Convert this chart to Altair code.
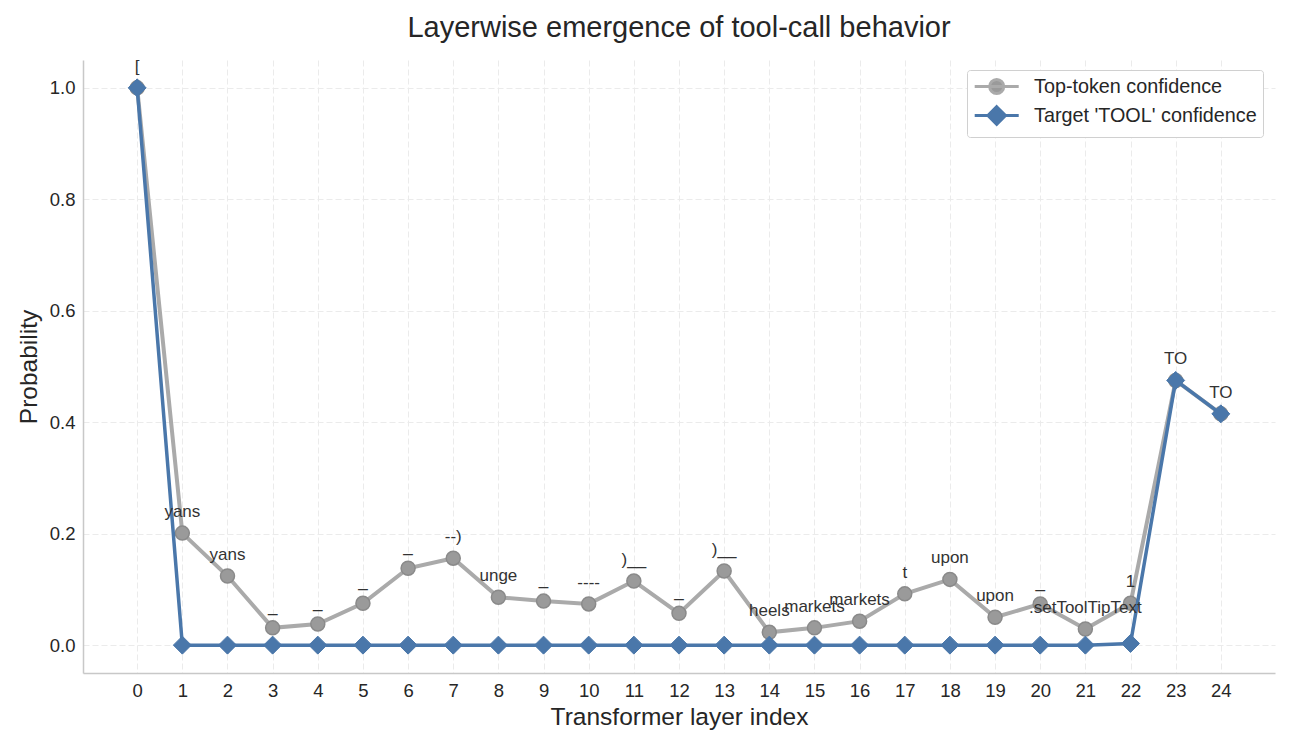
import altair as alt
import pandas as pd

layers = list(range(25))
top_conf = [1.0, 0.201, 0.124, 0.031, 0.038, 0.075, 0.138, 0.156, 0.086, 0.079,
            0.074, 0.115, 0.057, 0.133, 0.023, 0.031, 0.043, 0.092, 0.118, 0.050,
            0.074, 0.029, 0.075, 0.475, 0.415]
target_conf = [1.0, 0.0, 0.0, 0.0, 0.0, 0.0, 0.0, 0.0, 0.0, 0.0,
               0.0, 0.0, 0.0, 0.0, 0.0, 0.0, 0.0, 0.0, 0.0, 0.0,
               0.0, 0.0, 0.003, 0.475, 0.415]
top_tokens = ["[", "yans", "yans", "_", "_", "_", "_", "--)", "unge", "_",
              "----", ")__", "_", ")__", "heels", "markets", "markets", "t", "upon", "upon",
              "_", ".setToolTipText", "1", "TO", "TO"]

S_TOP = "Top-token confidence"
S_TGT = "Target 'TOOL' confidence"
series_names = [S_TOP, S_TGT]

GRAY_LINE = "#aaaaaa"
GRAY_FILL = "#9a9a9a"
GRAY_EDGE = "#8a8a8a"
BLUE = "#4a77aa"
FONT = "Liberation Sans"
TXT = "#262626"

top_df = pd.DataFrame({"layer": layers, "prob": top_conf, "series": S_TOP, "token": top_tokens})
tgt_df = pd.DataFrame({"layer": layers, "prob": target_conf, "series": S_TGT})
both_df = pd.concat([top_df, tgt_df], ignore_index=True)

PATH_TOP = ("M-1,0 L4,0 "
            "M0.7,0 A0.8,0.8 0 1,1 2.3,0 A0.8,0.8 0 1,1 0.7,0 Z")
PATH_TGT = ("M-1,0 L4,0 "
            "M1.5,-1 L2.5,0 L1.5,1 L0.5,0 Z")

x_enc = alt.X("layer:Q",
              scale=alt.Scale(domain=[-1.2, 25.2], nice=False, zero=False),
              axis=alt.Axis(values=layers, title="Transformer layer index", format="d"))
y_enc = alt.Y("prob:Q",
              scale=alt.Scale(domain=[-0.05, 1.05], nice=False, zero=False),
              axis=alt.Axis(values=[0.0, 0.2, 0.4, 0.6, 0.8, 1.0], format=".1f",
                            title="Probability"))

legend = alt.Legend(
    title=None, orient="none", legendX=884, legendY=10, padding=6,
    labelFontSize=19.8, labelFont=FONT, labelColor=TXT, labelLimit=400, symbolSize=310,
    symbolStrokeWidth=3, labelOffset=40, rowPadding=0, fillColor="white",
    strokeColor="#d0d0d0", cornerRadius=3, symbolOpacity=1,
)

gray_line = alt.Chart(top_df).mark_line(strokeWidth=4, color=GRAY_LINE).encode(x=x_enc, y=y_enc)
gray_pts = alt.Chart(top_df).mark_point(
    shape="circle", filled=True, fill=GRAY_FILL, stroke=GRAY_EDGE, strokeWidth=1.5,
    size=196, opacity=1).encode(x=x_enc, y=y_enc)
blue_line = alt.Chart(tgt_df).mark_line(strokeWidth=3.5, color=BLUE).encode(x=x_enc, y=y_enc)
blue_pts = alt.Chart(tgt_df).mark_point(
    shape="diamond", filled=True, fill=BLUE, stroke=BLUE, strokeWidth=1,
    size=324, opacity=1).encode(x=x_enc, y=y_enc)
labels = alt.Chart(top_df).mark_text(
    dy=-16, baseline="alphabetic", align="center", fontSize=17, font=FONT, color="#333333"
).encode(x=x_enc, y=y_enc, text="token:N")

legend_layer = alt.Chart(both_df).mark_point(opacity=0, strokeWidth=3, size=310).encode(
    x=x_enc, y=y_enc,
    fill=alt.Fill("series:N", scale=alt.Scale(domain=series_names, range=[GRAY_FILL, BLUE]),
                  legend=legend),
    stroke=alt.Stroke("series:N", scale=alt.Scale(domain=series_names, range=[GRAY_LINE, BLUE]),
                      legend=legend),
    shape=alt.Shape("series:N", scale=alt.Scale(domain=series_names, range=[PATH_TOP, PATH_TGT]),
                    legend=legend),
)

chart = alt.layer(gray_line, gray_pts, blue_line, blue_pts, labels, legend_layer).properties(
    width=1192, height=613,
    autosize=alt.AutoSizeParams(type="none"),
    padding={"left": 75, "top": 52, "right": 8, "bottom": 60},
    title=alt.Title("Layerwise emergence of tool-call behavior", fontSize=29, font=FONT,
                    color=TXT, fontWeight="normal", baseline="alphabetic", offset=0, dy=8,
                    anchor="middle"),
).configure_view(stroke=None).configure_axis(
    labelFont=FONT, titleFont=FONT, labelFontSize=18.5, titleFontSize=24.5,
    labelColor=TXT, titleColor=TXT, titleFontWeight="normal",
    tickSize=0, labelPadding=8, domainColor="#c8c8c8", domainWidth=1.5,
    gridColor="#ebebeb", gridDash=[6, 3], gridWidth=1,
).configure_axisX(titlePadding=6).configure_axisY(titlePadding=8)

chart.save("out.html", embed_options={"renderer": "svg", "actions": False})
